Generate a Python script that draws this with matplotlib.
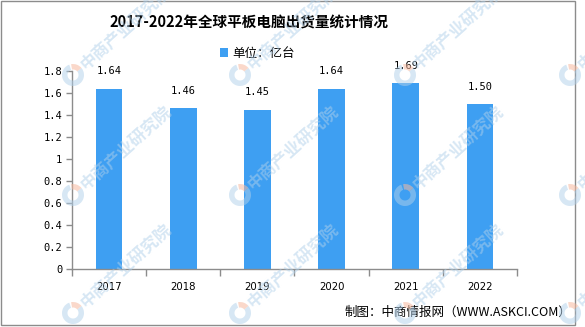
"""2017-2022 global tablet shipments bar chart."""
import matplotlib
matplotlib.use("Agg")
import matplotlib.pyplot as plt
from matplotlib.patches import Rectangle, Wedge

plt.rcParams["font.family"] = ["Noto Sans CJK SC", "DejaVu Sans"]

years = ["2017", "2018", "2019", "2020", "2021", "2022"]
shipments = [1.64, 1.46, 1.45, 1.64, 1.69, 1.50]
unit_label = "单位：亿台"
title = "2017-2022年全球平板电脑出货量统计情况"
source = "制图：中商情报网（WWW.ASKCI.COM）"
watermark = "中商产业研究院"

W, H = 585, 327
BAR = "#3e9ff2"
GREY = "#8c8c8c"


def fx(px):
    return px / W


def fy(py):
    return 1 - py / H


fig = plt.figure(figsize=(W / 100, H / 100), dpi=100)
ax = fig.add_axes([fx(72), fy(269), (517 - 72) / W, (269 - 71) / H])

x = list(range(len(years)))
bars = ax.bar(x, shipments, width=0.36, color=BAR, zorder=2)
for xi, v in zip(x, shipments):
    ax.annotate(f"{v:.2f}", (xi, v), xytext=(0, 9), textcoords="offset points",
                ha="center", va="bottom", fontsize=7.5, family="DejaVu Sans Mono")

ax.set_xlim(-0.5, len(years) - 0.5)
ax.set_ylim(0, 1.8)
ax.set_yticks([i / 5 for i in range(10)])
ax.set_yticklabels(["0", "0.2", "0.4", "0.6", "0.8", "1", "1.2", "1.4", "1.6", "1.8"],
                   family="DejaVu Sans Mono", fontsize=7.5)
ax.set_xticks(x)
ax.set_xticklabels(years, family="DejaVu Sans", fontsize=7.3)
ax.set_xticks([i - 0.5 for i in range(len(years) + 1)], minor=True)
ax.tick_params(axis="x", which="major", length=0, pad=9)
ax.tick_params(axis="x", which="minor", length=5, color=GREY, width=1)
ax.tick_params(axis="y", length=4, color=GREY, width=1, pad=3)
for side in ("top", "right"):
    ax.spines[side].set_visible(False)
for side in ("left", "bottom"):
    ax.spines[side].set_color(GREY)
    ax.spines[side].set_linewidth(1)

fig.text(fx(249), fy(23), title, ha="center", va="center",
         fontsize=10.5, fontweight="bold")
ax.legend([bars], [unit_label], loc="center", bbox_to_anchor=(fx(257), fy(53)),
          bbox_transform=fig.transFigure, frameon=False, fontsize=9,
          handlelength=0.7, handleheight=0.7, handletextpad=0.3, borderpad=0)
fig.text(fx(571), fy(312), source, ha="right", va="center", fontsize=9)

# outer frame
fig.add_artist(Rectangle((fx(1), fy(325)), fx(574), 324 / H, transform=fig.transFigure,
                         fill=False, edgecolor=GREY, lw=1, zorder=5))

# tiled watermark: logo ring plus rotated text
for lx in (73, 240, 405, 570):
    for ly in (75, 195, 313):
        cx, cy = lx / 100, (H - ly) / 100
        fig.add_artist(Wedge((cx, cy), 0.11, 110, 400, width=0.055,
                             transform=fig.dpi_scale_trans, color="#b0d0ea",
                             alpha=0.5, lw=0, zorder=6))
        fig.add_artist(Wedge((cx, cy), 0.11, 40, 100, width=0.055,
                             transform=fig.dpi_scale_trans, color="#f6b9a0",
                             alpha=0.55, lw=0, zorder=6))
        fig.text(fx(lx + 10), fy(ly - 8), watermark, rotation=42,
                 rotation_mode="anchor", ha="left", va="center", fontsize=12,
                 fontweight="bold", color="#b0d0ea", alpha=0.5, zorder=6)

fig.savefig("out.png", dpi=100)
